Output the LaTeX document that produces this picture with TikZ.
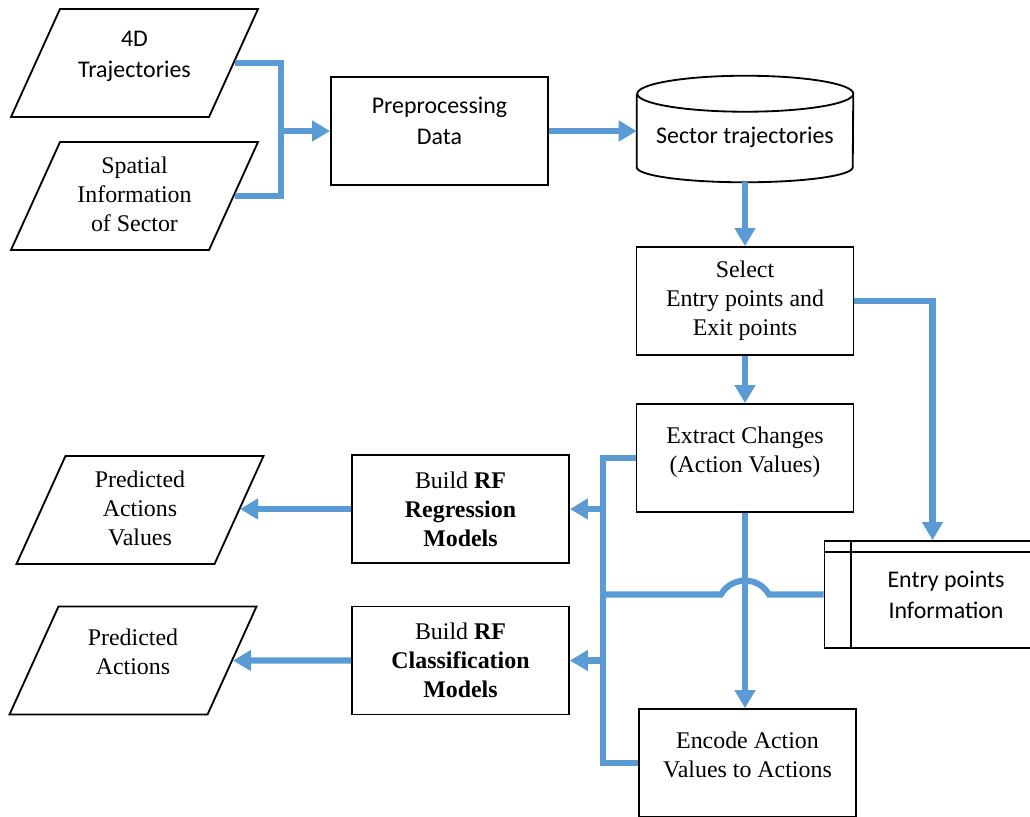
\documentclass[tikz,border=0pt]{standalone}
\usepackage{fontspec}
\setmainfont{Liberation Serif}
\newfontfamily\calibri{Carlito}
\usepackage{tikz}
\usetikzlibrary{shapes.geometric, arrows.meta}
\definecolor{flowblue}{RGB}{91,155,213}

\begin{document}
\begin{tikzpicture}[line join=miter]
       \tikzstyle{flowline} = [draw=flowblue, line width=4.3pt]
       \tikzstyle{flow} = [flowline, -{Triangle[length=0.45cm, width=0.5cm]}]
       \tikzstyle{process} = [rectangle, draw=black, line width=1.3pt, minimum width=5.425cm, minimum height=2.7cm, align=center, font=\fontsize{17pt}{20.6pt}\selectfont]
       \tikzstyle{io} = [trapezium, trapezium left angle=65.6, trapezium right angle=114.4, trapezium stretches body=true, draw=black, line width=1.3pt, minimum width=6.175cm, inner ysep=0pt, align=center, font=\fontsize{17pt}{20.6pt}\selectfont]
       \tikzstyle{ioshort} = [text height=49pt, text depth=27.8pt]
       \tikzstyle{iotall} = [text height=63.3pt, text depth=13.5pt]
       \tikzstyle{sans} = [font=\calibri\fontsize{17pt}{22pt}\selectfont]
       \tikzstyle{twoline} = [text height=25pt, text depth=4pt]
       \useasboundingbox (0,0) rectangle (25.75,-20.4);
       \clip (0,0) rectangle (25.75,-20.4);

       % inputs
       \node (traj) [io, sans, ioshort] at (3.3625,-1.575) {4D\\Trajectories};
       \node (spatial) [io, iotall] at (3.3625,-4.9) {Spatial\\Information\\of Sector};
       \node (prep) [process, sans, twoline, text height=22.5pt] at (10.9875,-3.275) {Preprocessing\\Data};
       \node (sector) [sans, minimum width=5.4cm, minimum height=2.65cm, inner sep=0pt, text height=24pt, text depth=4pt] at (18.625,-3.225) {Sector trajectories};
       \draw [line width=1.3pt] ([yshift=-0.45cm]sector.north west) -- ([yshift=0.375cm]sector.south west)
             arc[start angle=180, end angle=360, x radius=2.7cm, y radius=0.375cm]
             -- ([yshift=-0.45cm]sector.north east)
             arc[start angle=0, end angle=180, x radius=2.7cm, y radius=0.45cm]
             arc[start angle=180, end angle=360, x radius=2.7cm, y radius=0.45cm];

       % main column
       \node (select) [process] at (18.625,-7.525) {Select\\Entry points and\\Exit points};
       \node (extract) [process, twoline] at (18.625,-11.45) {Extract Changes\\(Action Values)};
       \node (encode) [process, twoline, text height=24pt] at (18.6875,-19.075) {Encode Action\\Values to Actions};
       \node (entry) [process, sans, minimum width=5.4cm, minimum height=2.675cm] at (23.3125,-14.8625) {\hspace*{0.675cm}Entry points\\\hspace*{0.675cm}Information};
       \draw [line width=1.3pt] ([xshift=0.675cm]entry.north west) -- ([xshift=0.675cm]entry.south west);
       \draw [line width=1.3pt] ([yshift=-0.3cm]entry.north west) -- ([yshift=-0.3cm]entry.north east);

       % models and outputs
       \node (regr) [process] at (11.5125,-12.725) {Build \textbf{RF}\\\textbf{Regression}\\\textbf{Models}};
       \node (class) [process] at (11.5125,-16.5125) {Build \textbf{RF}\\\textbf{Classification}\\\textbf{Models}};
       \node (pav) [io, iotall] at (3.5,-12.75) {Predicted\\Actions\\Values};
       \node (pa) [io, ioshort, text height=48pt, text depth=28.8pt] at (3.325,-16.5125) {Predicted\\Actions};

       \coordinate (merge) at (7.025,-3.275);
       \coordinate (bus) at (15.075,-14.85);
       \coordinate (hop) at (19.225,-14.85);

       \draw [flowline] (traj.east) -| (merge) |- (spatial.east);
       \draw [flow] (merge) -- (prep.west);
       \draw [flow] (prep.east) -- (prep.east -| sector.west);
       \draw [flow] (sector.south) -- (select.north);
       \draw [flow] (select.south) -- (extract.north);
       \draw [flow] (select.east) -| (entry.north);
       \draw [flow] (extract.south) -- (extract.south |- encode.north);
       \draw [flowline] (extract.west) -| (bus) |- (encode.west);
       \draw [flowline] (entry.west) -- (entry.west -| hop)
             arc[start angle=29.6, end angle=150.4, radius=0.69cm] -- (entry.west -| bus);
       \draw [flow] (regr.east -| bus) -- (regr.east);
       \draw [flow] (class.east -| bus) -- (class.east);
       \draw [flow] (regr.west) -- (regr.west -| pav.east);
       \draw [flow] (class.west) -- (pa.east);
\end{tikzpicture}
\end{document}
